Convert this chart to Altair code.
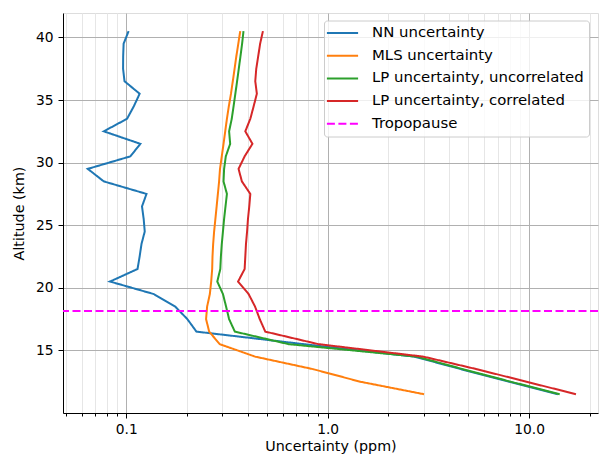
import altair as alt
import pandas as pd

# Altitude grid of the retrieved profiles (km)
altitude_km = [11.5, 12.5, 13.5, 14.5, 15.5, 16.5, 17.5, 18.5, 19.5, 20.5,
               21.5, 22.5, 23.5, 24.5, 25.5, 26.5, 27.5, 28.5, 29.5, 30.5,
               31.5, 32.5, 33.5, 34.5, 35.5, 36.5, 37.5, 38.5, 39.5, 40.5]

# Uncertainties (ppm) per altitude level
nn_unc = [13.9, 7.95, 4.6, 2.7, 0.76, 0.223, 0.201, 0.175, 0.137, 0.083,
          0.1137, 0.1165, 0.119, 0.1235, 0.122, 0.1197, 0.126, 0.0773, 0.0644, 0.1048,
          0.1175, 0.0773, 0.1009, 0.109, 0.1165, 0.098, 0.0964, 0.0965, 0.097, 0.1027]
mls_unc = [3.01, 1.45, 0.848, 0.437, 0.291, 0.258, 0.249, 0.252, 0.26, 0.264,
           0.267, 0.268, 0.27, 0.273, 0.277, 0.281, 0.285, 0.289, 0.292, 0.298,
           0.304, 0.31, 0.316, 0.323, 0.331, 0.338, 0.345, 0.352, 0.36, 0.368]
lp_uncorr = [14.2, 8.1, 4.7, 2.77, 0.64, 0.346, 0.324, 0.313, 0.302, 0.283,
             0.293, 0.295, 0.298, 0.302, 0.306, 0.311, 0.316, 0.304, 0.306, 0.312,
             0.328, 0.324, 0.334, 0.341, 0.348, 0.355, 0.362, 0.369, 0.376, 0.382]
lp_corr = [17.1, 9.7, 5.5, 2.99, 0.9, 0.49, 0.46, 0.436, 0.405, 0.359,
           0.387, 0.39, 0.393, 0.398, 0.402, 0.408, 0.413, 0.375, 0.361, 0.387,
           0.423, 0.39, 0.413, 0.429, 0.445, 0.437, 0.442, 0.452, 0.462, 0.477]
tropopause_km = 18.15

series_names = ["NN uncertainty", "MLS uncertainty",
                "LP uncertainty, uncorrelated", "LP uncertainty, correlated",
                "Tropopause"]
series_colors = ["#1f77b4", "#ff7f0e", "#2ca02c", "#d62728", "#ff00ff"]
series_dash = [[1, 0], [1, 0], [1, 0], [1, 0], [8, 3.5]]

major_ticks = [0.1, 1, 10]
minor_ticks = [0.05, 0.06, 0.07, 0.08, 0.09,
               0.2, 0.3, 0.4, 0.5, 0.6, 0.7, 0.8, 0.9,
               2, 3, 4, 5, 6, 7, 8, 9, 20]
y_ticks = [15, 20, 25, 30, 35, 40]

profiles = []
for name, vals in zip(series_names[:4], [nn_unc, mls_unc, lp_uncorr, lp_corr]):
    for a, v in zip(altitude_km, vals):
        profiles.append({"series": name, "alt": a, "unc": v})
df = pd.DataFrame(profiles)
trop_df = pd.DataFrame({"series": ["Tropopause"], "alt": [tropopause_km]})

FONT = "DejaVu Sans"
is_major = "datum.value == 0.1 || datum.value == 1 || datum.value == 10"

text_style = dict(labelFont=FONT, titleFont=FONT, labelFontSize=13.8, titleFontSize=14.3,
                  titleFontWeight="normal", labelColor="black", titleColor="black",
                  domainColor="black", tickColor="black", domainWidth=1, tickWidth=1,
                  gridWidth=1)

legend = alt.Legend(
    title=None, orient="none", legendX=261, legendY=7.5, direction="vertical",
    fillColor="rgba(255,255,255,0.8)", strokeColor="#cccccc", cornerRadius=3,
    padding=5, symbolType="M-2.4,0L2.4,0", symbolSize=169, symbolStrokeWidth=2,
    symbolOffset=6, labelOffset=22, rowPadding=6.7,
    labelFont=FONT, labelFontSize=14.9, labelColor="black", labelLimit=400,
)
color = alt.Color("series:N", scale=alt.Scale(domain=series_names, range=series_colors),
                  legend=legend)
dash = alt.StrokeDash("series:N", scale=alt.Scale(domain=series_names, range=series_dash),
                      legend=legend)

x_enc = alt.X(
    "unc:Q",
    scale=alt.Scale(type="log", domain=[0.0485, 22], nice=False),
    axis=alt.Axis(
        values=sorted(major_ticks + minor_ticks),
        labelExpr=f"({is_major}) ? format(datum.value, '.1f') : ''",
        gridColor={"condition": {"test": is_major, "value": "#b0b0b0"}, "value": "#e6e6e6"},
        tickSize={"condition": {"test": is_major, "value": 5}, "value": 3},
        labelOverlap=False, labelFlush=False, labelPadding=4,
        title="Uncertainty (ppm)", titlePadding=4, **text_style,
    ),
)
y_enc = alt.Y(
    "alt:Q",
    scale=alt.Scale(domain=[10.0, 41.95], nice=False, zero=False),
    axis=alt.Axis(values=y_ticks, tickSize=5, labelPadding=5, gridColor="#b0b0b0",
                  title="Altitude (km)", titlePadding=9, **text_style),
)

layers = []
for name in series_names[:4]:
    layers.append(
        alt.Chart(df).transform_filter(alt.datum.series == name)
        .mark_line(strokeWidth=2)
        .encode(x=x_enc, y=y_enc, order=alt.Order("alt:Q"), color=color, strokeDash=dash)
    )
layers.append(
    alt.Chart(trop_df).mark_rule(strokeWidth=2)
    .encode(y=alt.Y("alt:Q"), color=color, strokeDash=dash)
)

chart = (
    alt.layer(*layers)
    .properties(width=535, height=400,
                autosize=alt.AutoSizeParams(type="none"),
                padding={"left": 63, "top": 13, "right": 2, "bottom": 45})
    .configure_view(stroke="black", strokeWidth=1)
    .configure(background="white")
)

chart.save("out.html", embed_options={"renderer": "svg", "actions": False})
